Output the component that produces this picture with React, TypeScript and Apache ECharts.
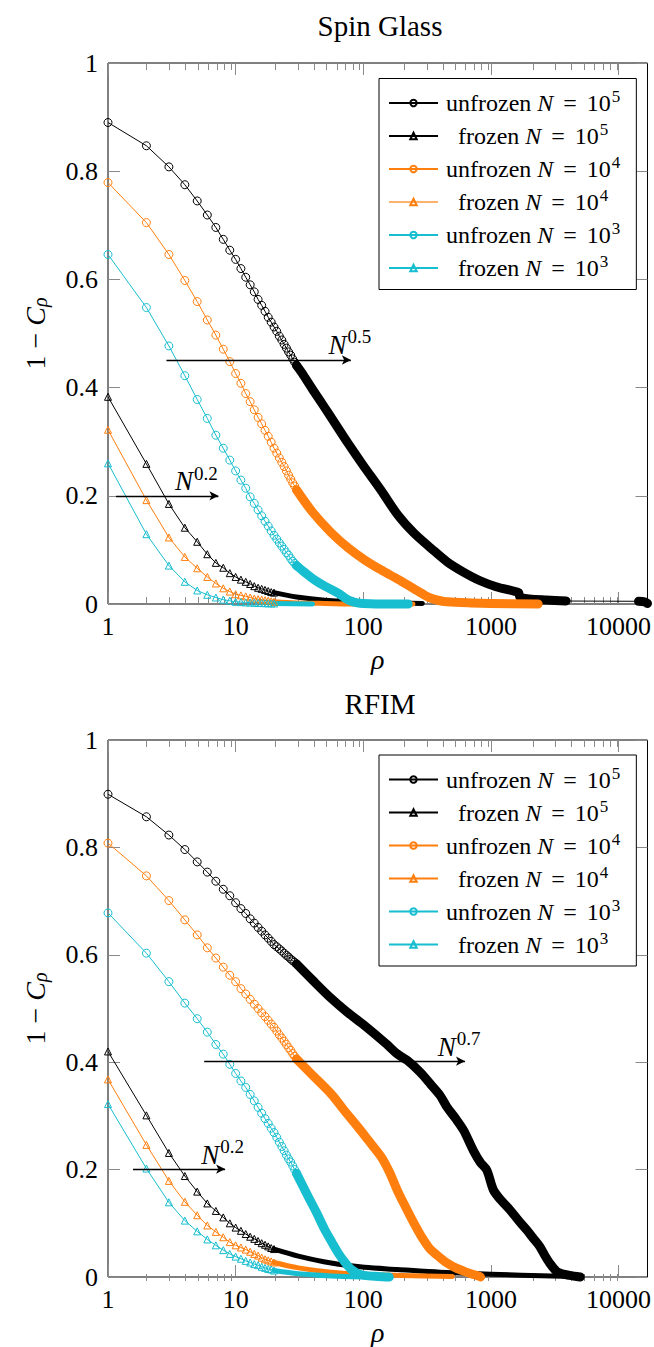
import React, { useEffect, useRef } from 'react';
import * as echarts from 'echarts';

const FONT = 'Liberation Serif';
const TICK = '#8a8a8a';
const BLACK = '#000000';
const ORANGE = '#ff7f0e';
const ORANGE_LIGHT = '#ffb26e';
const CYAN = '#17becf';

const X_MIN = 1;
const X_MAX = 16870;
const MAJOR_X = [1, 10, 100, 1000, 10000];
const MINOR_X = [2, 3, 4, 5, 6, 7, 8, 9, 20, 30, 40, 50, 60, 70, 80, 90, 200, 300, 400, 500, 600, 700, 800, 900, 2000, 3000, 4000, 5000, 6000, 7000, 8000, 9000];

const RHO30 = [1, 2, 3, 4, 5, 6, 7, 8, 9, 10, 11, 12, 13, 14, 15, 16, 17, 18, 19, 20, 21, 22, 23, 24, 25, 26, 27, 28, 29, 30];
const RHO20 = [1, 2, 3, 4, 5, 6, 7, 8, 9, 10, 11, 12, 13, 14, 15, 16, 17, 18, 19, 20];

// ---- Spin Glass ----
const sgU5 = [0.890, 0.847, 0.808, 0.775, 0.745, 0.719, 0.696, 0.674, 0.654, 0.637, 0.620, 0.604, 0.590, 0.577, 0.563, 0.552, 0.541, 0.530, 0.521, 0.512, 0.504, 0.495, 0.488, 0.480, 0.473, 0.466, 0.460, 0.453, 0.447, 0.441];
const sgU5TailRhoA = [30, 34, 40, 48, 60, 76, 100, 138, 186, 250, 340, 454, 600, 824, 1100, 1497, 1650, 1700, 2000, 2718, 3890];
const sgU5TailA = [0.441, 0.423, 0.397, 0.369, 0.334, 0.297, 0.256, 0.210, 0.165, 0.131, 0.103, 0.078, 0.060, 0.043, 0.032, 0.024, 0.021, 0.012, 0.0095, 0.0075, 0.0055];
const sgU5TailRhoB = [14350, 16000, 16870];
const sgU5TailB = [0.005, 0.004, 0.001];

const sgF5 = [0.383, 0.259, 0.185, 0.141, 0.115, 0.092, 0.076, 0.067, 0.057, 0.050, 0.045, 0.041, 0.037, 0.033, 0.030, 0.028, 0.026, 0.024, 0.022, 0.021];
const sgF5TailRho = [20, 30, 50, 100, 200, 290];
const sgF5Tail = [0.021, 0.013, 0.007, 0.003, 0.002, 0.001];

const sgU4 = [0.779, 0.705, 0.646, 0.598, 0.559, 0.525, 0.497, 0.471, 0.448, 0.426, 0.408, 0.389, 0.374, 0.359, 0.345, 0.333, 0.321, 0.310, 0.299, 0.288, 0.279, 0.270, 0.262, 0.254, 0.246, 0.238, 0.231, 0.224, 0.218, 0.211];
const sgU4TailRho = [30, 40, 56, 76, 102, 138, 186, 250, 300, 336, 400, 454, 700, 1000, 2344];
const sgU4Tail = [0.211, 0.170, 0.132, 0.104, 0.082, 0.063, 0.046, 0.028, 0.017, 0.011, 0.006, 0.004, 0.002, 0.001, 0.000];

const sgF4 = [0.322, 0.192, 0.123, 0.087, 0.066, 0.050, 0.038, 0.029, 0.023, 0.018, 0.016, 0.014, 0.012, 0.010, 0.009, 0.008, 0.007, 0.006, 0.005, 0.004];
const sgF4TailRho = [20, 30, 50, 100, 245];
const sgF4Tail = [0.004, 0.002, 0.001, 0.000, 0.000];

const sgU3 = [0.646, 0.548, 0.477, 0.422, 0.378, 0.343, 0.312, 0.288, 0.266, 0.246, 0.229, 0.214, 0.198, 0.186, 0.174, 0.163, 0.153, 0.144, 0.135, 0.127, 0.120, 0.113, 0.107, 0.101, 0.095, 0.090, 0.084, 0.079, 0.075, 0.071];
const sgU3TailRho = [30, 35, 41.9, 50, 63.5, 72, 80.6, 90, 100, 150, 225];
const sgU3Tail = [0.071, 0.058, 0.044, 0.033, 0.020, 0.011, 0.005, 0.002, 0.001, 0.000, 0.000];

const sgF3 = [0.260, 0.129, 0.071, 0.041, 0.025, 0.017, 0.012, 0.008, 0.006, 0.004, 0.0035, 0.003, 0.0027, 0.0024, 0.002, 0.0018, 0.0015, 0.0013, 0.0011, 0.001];
const sgF3TailRho = [20, 40];
const sgF3Tail = [0.001, 0.000];

// ---- RFIM ----
const rfU5 = [0.899, 0.857, 0.823, 0.796, 0.773, 0.754, 0.737, 0.722, 0.710, 0.697, 0.686, 0.677, 0.667, 0.659, 0.651, 0.644, 0.637, 0.631, 0.625, 0.619, 0.615, 0.611, 0.607, 0.603, 0.599, 0.596, 0.592, 0.589, 0.586, 0.583];
const rfU5TailRho = [30, 40, 56, 75, 100, 150, 186, 222, 280, 337, 400, 454, 530, 612, 731, 829, 929, 1047, 1200, 1410, 1650, 1901, 2150, 2415, 2650, 2887, 3252, 3600, 4130, 5020];
const rfU5Tail = [0.583, 0.553, 0.519, 0.493, 0.470, 0.435, 0.415, 0.403, 0.381, 0.359, 0.338, 0.316, 0.295, 0.273, 0.235, 0.213, 0.199, 0.162, 0.143, 0.125, 0.105, 0.088, 0.072, 0.057, 0.040, 0.026, 0.011, 0.006, 0.003, 0.000];

const rfF5 = [0.420, 0.301, 0.231, 0.188, 0.159, 0.137, 0.123, 0.111, 0.100, 0.092, 0.086, 0.080, 0.075, 0.071, 0.067, 0.063, 0.060, 0.057, 0.054, 0.052];
const rfF5TailRho = [20, 31, 56, 102, 186, 400, 1000, 3000, 5000];
const rfF5Tail = [0.052, 0.039, 0.026, 0.018, 0.014, 0.009, 0.005, 0.002, 0.000];

const rfU4 = [0.808, 0.747, 0.701, 0.665, 0.637, 0.613, 0.594, 0.577, 0.562, 0.550, 0.537, 0.527, 0.517, 0.508, 0.500, 0.492, 0.485, 0.478, 0.471, 0.465, 0.458, 0.451, 0.445, 0.439, 0.433, 0.427, 0.422, 0.416, 0.411, 0.406];
const rfU4TailRho = [30, 40, 56, 70, 91, 110, 138, 160, 186, 215, 250, 290, 337, 400, 454, 530, 612, 700, 800, 830];
const rfU4Tail = [0.406, 0.376, 0.341, 0.312, 0.279, 0.254, 0.224, 0.196, 0.160, 0.130, 0.100, 0.073, 0.051, 0.036, 0.026, 0.017, 0.011, 0.006, 0.002, 0.000];

const rfF4 = [0.368, 0.246, 0.179, 0.140, 0.115, 0.096, 0.084, 0.074, 0.065, 0.059, 0.055, 0.051, 0.047, 0.043, 0.040, 0.036, 0.033, 0.031, 0.029, 0.027];
const rfF4TailRho = [20, 31, 56, 102, 200, 500];
const rfF4Tail = [0.027, 0.017, 0.009, 0.005, 0.003, 0.001];

const rfU3 = [0.678, 0.603, 0.550, 0.510, 0.481, 0.456, 0.433, 0.415, 0.396, 0.379, 0.365, 0.353, 0.340, 0.328, 0.316, 0.305, 0.295, 0.286, 0.277, 0.269, 0.260, 0.251, 0.243, 0.235, 0.227, 0.220, 0.214, 0.207, 0.200, 0.193];
const rfU3TailRho = [30, 37, 43, 50, 57, 63.5, 72, 80.6, 90, 102, 130, 160];
const rfU3Tail = [0.193, 0.150, 0.120, 0.088, 0.064, 0.045, 0.027, 0.014, 0.007, 0.003, 0.001, 0.000];

const rfF3 = [0.322, 0.202, 0.139, 0.105, 0.085, 0.070, 0.059, 0.050, 0.043, 0.038, 0.034, 0.030, 0.027, 0.024, 0.022, 0.019, 0.017, 0.015, 0.014, 0.012];
const rfF3TailRho = [20, 31, 56, 100];
const rfF3Tail = [0.012, 0.006, 0.002, 0.000];

// ---- annotations: [x start, x end, y, label x, label y, exponent] ----
const SG_ARROWS = [
  [2.87, 80, 0.451, 78.7, 0.479, '0.5'],
  [1.154, 7.33, 0.200, 4.92, 0.227, '0.2'],
];
const RF_ARROWS = [
  [5.67, 627, 0.402, 563, 0.429, '0.7'],
  [1.57, 8.27, 0.201, 7.9, 0.228, '0.2'],
];

const LABELS: Record<string, string> = {
  sg_u5: '{g|}unfrozen {i|N} {e|=} 10{s|5}',
  sg_f5: '{p|}frozen {i|N} {e|=} 10{s|5}',
  sg_u4: '{g|}unfrozen {i|N} {e|=} 10{s|4}',
  sg_f4: '{p|}frozen {i|N} {e|=} 10{s|4}',
  sg_u3: '{g|}unfrozen {i|N} {e|=} 10{s|3}',
  sg_f3: '{p|}frozen {i|N} {e|=} 10{s|3}',
  rf_u5: '{g|}unfrozen {i|N} {e|=} 10{s|5}',
  rf_f5: '{p|}frozen {i|N} {e|=} 10{s|5}',
  rf_u4: '{g|}unfrozen {i|N} {e|=} 10{s|4}',
  rf_f4: '{p|}frozen {i|N} {e|=} 10{s|4}',
  rf_u3: '{g|}unfrozen {i|N} {e|=} 10{s|3}',
  rf_f3: '{p|}frozen {i|N} {e|=} 10{s|3}',
};

const pairs = (xs: number[], ys: number[]) => xs.map((x, i) => [x, ys[i]]);

function curve(
  name: string, axis: number, color: string, frozen: boolean,
  rho: number[], vals: number[], tails: [number[], number[]][],
) {
  const tailPts: any[] = [];
  tails.forEach(([tx, ty]) => {
    pairs(tx, ty).forEach((p, i) => {
      if (i === 0 && tailPts.length === 0) return;
      tailPts.push({ value: p, symbol: 'none' });
    });
  });
  const markers = {
    name, type: 'line', xAxisIndex: axis * 2, yAxisIndex: axis * 2,
    data: [...pairs(rho, vals), ...tailPts],
    symbol: frozen ? 'triangle' : 'circle',
    symbolSize: frozen ? 7 : 8,
    showAllSymbol: true,
    clip: false,
    itemStyle: { color: 'rgba(255,255,255,0)', borderColor: color, borderWidth: 1 },
    lineStyle: { color, width: 1 },
    emphasis: { disabled: true },
  };
  const bands = tails.map(([tx, ty], k) => ({
    name: name + '_band' + k, type: 'line', xAxisIndex: axis * 2, yAxisIndex: axis * 2,
    data: pairs(tx, ty), symbol: 'none', clip: false, silent: true, smooth: 0.3,
    lineStyle: { color, width: frozen ? 5 : 9, cap: 'round', join: 'round' },
    emphasis: { disabled: true },
  }));
  return [markers, ...bands];
}

const supRich = {
  i: { fontFamily: FONT, fontStyle: 'italic', fontSize: 27, color: '#000' },
  s: { fontFamily: FONT, fontSize: 19, color: '#000', padding: [0, 0, 16, 1] },
};

function arrowSeries(axis: number, arrows: any[]) {
  return {
    name: 'arrows' + axis, type: 'line', xAxisIndex: axis * 2, yAxisIndex: axis * 2,
    data: [], silent: true, symbol: 'none', clip: false,
    markLine: {
      silent: true, animation: false, symbol: ['none', 'arrow'], symbolSize: [7, 9],
      lineStyle: { color: '#000', width: 1.3, type: 'solid' },
      label: { show: false },
      emphasis: { disabled: true },
      data: arrows.map((a) => [{ coord: [a[0], a[2]] }, { coord: [a[1], a[2]] }]),
    },
    markPoint: {
      silent: true, animation: false, symbol: 'circle', symbolSize: 0,
      itemStyle: { color: 'rgba(0,0,0,0)' },
      data: arrows.map((a) => ({
        coord: [a[3], a[4]],
        label: {
          show: true, position: 'inside', formatter: '{i|N}{s|' + a[5] + '}',
          rich: supRich, color: '#000',
        },
      })),
    },
  };
}

const GRID_TOPS = [63, 740];
const PLOT_H = 541;

export default function App() {
  const ref = useRef<HTMLDivElement>(null);
  useEffect(() => {
    document.body.style.margin = '0';
    const chart = echarts.init(ref.current!, undefined, { renderer: 'svg' });

    const grids: any[] = [];
    GRID_TOPS.forEach((t) => grids.push({ left: 108, top: t, width: 544, height: PLOT_H, show: true, borderColor: '#000', borderWidth: 1, backgroundColor: 'transparent' }));
    GRID_TOPS.forEach((t) => grids.push({ left: 108, top: t, width: 544, height: PLOT_H, show: false }));

    const xBase = { type: 'log', logBase: 10, min: X_MIN, max: X_MAX, splitLine: { show: false }, axisLine: { show: false, onZero: false } };
    const xAxes: any[] = [];
    [0, 1].forEach((g) => {
      xAxes.push({
        ...xBase, gridIndex: g, position: 'bottom',
        axisTick: { show: true, inside: true, length: 12, lineStyle: { color: TICK, width: 1 }, customValues: MAJOR_X },
        axisLabel: { show: true, customValues: MAJOR_X, formatter: (v: number) => String(Math.round(v)), fontFamily: FONT, fontSize: 26, color: '#000', margin: 9 },
        name: 'ρ', nameLocation: 'middle', nameGap: 41,
        nameTextStyle: { fontFamily: FONT, fontStyle: 'italic', fontSize: 28, color: '#000' },
      });
      xAxes.push({
        ...xBase, gridIndex: g, position: 'top',
        axisTick: { show: true, inside: true, length: 12, lineStyle: { color: TICK, width: 1 }, customValues: MAJOR_X },
        axisLabel: { show: false },
      });
    });
    [2, 3].forEach((g) => {
      xAxes.push({
        ...xBase, gridIndex: g, position: 'bottom',
        axisTick: { show: true, inside: true, length: 7, lineStyle: { color: TICK, width: 1 }, customValues: MINOR_X },
        axisLabel: { show: false },
      });
      xAxes.push({
        ...xBase, gridIndex: g, position: 'top',
        axisTick: { show: true, inside: true, length: 7, lineStyle: { color: TICK, width: 1 }, customValues: MINOR_X },
        axisLabel: { show: false },
      });
    });

    const yAxes: any[] = [];
    [0, 1].forEach((g) => {
      yAxes.push({
        type: 'value', gridIndex: g, min: 0, max: 1, interval: 0.2, position: 'left',
        splitLine: { show: false }, axisLine: { show: false, onZero: false },
        axisTick: { show: true, inside: true, length: 12, lineStyle: { color: TICK, width: 1 } },
        axisLabel: {
          fontFamily: FONT, fontSize: 26, color: '#000', margin: 10,
          formatter: (v: number) => (v === 0 ? '0' : v === 1 ? '1' : v.toFixed(1)),
        },
        name: '1 − {i|C}{sub|ρ}', nameLocation: 'middle', nameRotate: 90, nameGap: 58,
        nameTextStyle: {
          fontFamily: FONT, fontSize: 28, color: '#000',
          rich: {
            i: { fontFamily: FONT, fontStyle: 'italic', fontSize: 28, color: '#000' },
            sub: { fontFamily: FONT, fontStyle: 'italic', fontSize: 20, color: '#000', padding: [10, 0, 0, 0] },
          },
        },
      });
      yAxes.push({
        type: 'value', gridIndex: g, min: 0, max: 1, interval: 0.2, position: 'right',
        splitLine: { show: false }, axisLine: { show: false, onZero: false },
        axisTick: { show: true, inside: true, length: 12, lineStyle: { color: TICK, width: 1 } },
        axisLabel: { show: false },
      });
    });
    [2, 3].forEach((g) => {
      yAxes.push({ type: 'value', gridIndex: g, min: 0, max: 1, show: false });
    });

    const series: any[] = [
      ...curve('sg_u5', 0, BLACK, false, RHO30, sgU5, [[sgU5TailRhoA, sgU5TailA], [sgU5TailRhoB, sgU5TailB]]),
      ...curve('sg_f5', 0, BLACK, true, RHO20, sgF5, [[sgF5TailRho, sgF5Tail]]),
      ...curve('sg_u4', 0, ORANGE, false, RHO30, sgU4, [[sgU4TailRho, sgU4Tail]]),
      ...curve('sg_f4', 0, ORANGE, true, RHO20, sgF4, [[sgF4TailRho, sgF4Tail]]),
      ...curve('sg_u3', 0, CYAN, false, RHO30, sgU3, [[sgU3TailRho, sgU3Tail]]),
      ...curve('sg_f3', 0, CYAN, true, RHO20, sgF3, [[sgF3TailRho, sgF3Tail]]),
      arrowSeries(0, SG_ARROWS),
      ...curve('rf_u5', 1, BLACK, false, RHO30, rfU5, [[rfU5TailRho, rfU5Tail]]),
      ...curve('rf_f5', 1, BLACK, true, RHO20, rfF5, [[rfF5TailRho, rfF5Tail]]),
      ...curve('rf_u4', 1, ORANGE, false, RHO30, rfU4, [[rfU4TailRho, rfU4Tail]]),
      ...curve('rf_f4', 1, ORANGE, true, RHO20, rfF4, [[rfF4TailRho, rfF4Tail]]),
      ...curve('rf_u3', 1, CYAN, false, RHO30, rfU3, [[rfU3TailRho, rfU3Tail]]),
      ...curve('rf_f3', 1, CYAN, true, RHO20, rfF3, [[rfF3TailRho, rfF3Tail]]),
      arrowSeries(1, RF_ARROWS),
    ];

    const legendBase = {
      orient: 'vertical', left: 379, itemWidth: 49, itemHeight: 8, itemGap: 6,
      padding: [9.5, 16, 9.5, 9], borderColor: '#000', borderWidth: 1, borderRadius: 0,
      backgroundColor: '#fff', selectedMode: false,
      lineStyle: { width: 2 },
      formatter: (n: string) => LABELS[n] || n,
      textStyle: {
        fontFamily: FONT, fontSize: 24, lineHeight: 24, color: '#000',
        rich: {
          g: { width: 3 },
          p: { width: 15 },
          i: { fontFamily: FONT, fontStyle: 'italic', fontSize: 24, color: '#000' },
          e: { fontFamily: FONT, fontSize: 24, color: '#000', padding: [0, 4] },
          s: { fontFamily: FONT, fontSize: 17, color: '#000', padding: [0, 0, 13, 1] },
        },
      },
    };

    chart.setOption({
      animation: false,
      backgroundColor: '#fff',
      title: [
        { text: 'Spin Glass', left: 380, top: 11, textAlign: 'center', padding: 0, textStyle: { fontFamily: FONT, fontSize: 29, fontWeight: 'normal', color: '#000' } },
        { text: 'RFIM', left: 380, top: 689, textAlign: 'center', padding: 0, textStyle: { fontFamily: FONT, fontSize: 29, fontWeight: 'normal', color: '#000' } },
      ],
      legend: [
        { ...legendBase, top: 78.5, data: ['sg_u5', 'sg_f5', 'sg_u4', { name: 'sg_f4', lineStyle: { color: ORANGE_LIGHT } }, 'sg_u3', 'sg_f3'] },
        { ...legendBase, top: 755, data: ['rf_u5', 'rf_f5', 'rf_u4', 'rf_f4', 'rf_u3', 'rf_f3'] },
      ],
      grid: grids,
      xAxis: xAxes,
      yAxis: yAxes,
      series,
    });
    return () => chart.dispose();
  }, []);
  return <div ref={ref} style={{ width: 654, height: 1347 }} />;
}
